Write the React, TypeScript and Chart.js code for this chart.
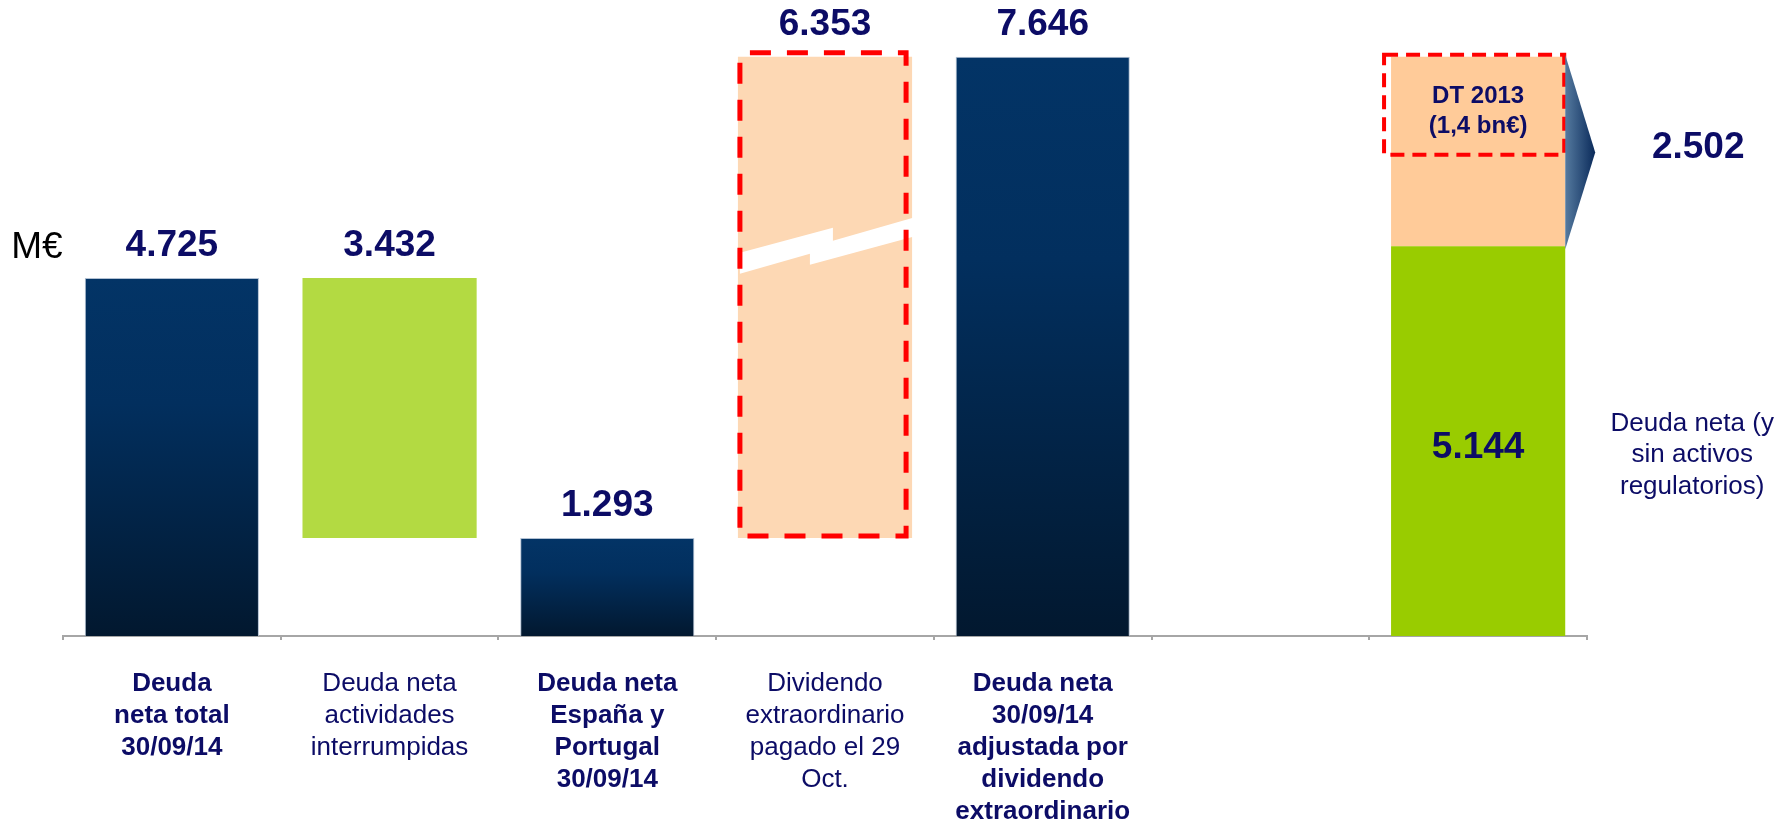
import React, { useEffect, useRef } from 'react';
import { Chart, registerables } from 'chart.js';

Chart.register(...registerables);

// ---- data ----
const categories: (string | string[])[] = [
  ['Deuda', 'neta total', '30/09/14'],
  ['Deuda neta', 'actividades', 'interrumpidas'],
  ['Deuda neta', 'España y', 'Portugal', '30/09/14'],
  ['Dividendo', 'extraordinario', 'pagado el 29', 'Oct.'],
  ['Deuda neta', '30/09/14', 'adjustada por', 'dividendo', 'extraordinario'],
  '',
  '',
];
const boldCategory = [true, false, true, false, true, false, false];
const barStart: (number | null)[] = [0, 1293, 0, 1293, 0, null, 0];
const barEnd: (number | null)[] = [4725, 4725, 1293, 7646, 7646, null, 5144];
const barValue: (number | null)[] = [4725, 3432, 1293, 6353, 7646, null, 5144];
const barKind = ['navy', 'lime', 'navy', 'dividend', 'navy', 'none', 'green'];
const dtStart: (number | null)[] = [null, null, null, null, null, null, 5144];
const dtEnd: (number | null)[] = [null, null, null, null, null, null, 7646];
const dtValue = 2502;
const dtNote = ['DT 2013', '(1,4 bn€)'];
const sideNote = ['Deuda neta (y', 'sin activos', 'regulatorios)'];
const unitLabel = 'M€';
const yMax = 8000;

const FONT = '"Liberation Sans", Arial, Helvetica, sans-serif';
const NAVY_TEXT = '#0c0c66';

const fmt = (n: number) => String(n).replace(/\B(?=(\d{3})+(?!\d))/g, '.');

function barBox(el: any) {
  const p = el.getProps(['x', 'y', 'base', 'width'], true);
  return {
    L: p.x - p.width / 2,
    R: p.x + p.width / 2,
    top: Math.min(p.y, p.base),
    bottom: Math.max(p.y, p.base),
    cx: p.x,
  };
}

const decorPlugin = {
  id: 'decor',
  afterDatasetsDraw(chart: any) {
    const c: CanvasRenderingContext2D = chart.ctx;
    const main = chart.getDatasetMeta(0).data;
    const dt = chart.getDatasetMeta(1).data;
    c.save();

    // ---- dividend bar: break band + dashed frame ----
    const d = barBox(main[3]);
    c.fillStyle = '#ffffff';
    c.beginPath();
    c.moveTo(d.L + 2, d.top + 196);
    c.lineTo(d.L + 95, d.top + 171);
    c.lineTo(d.L + 95, d.top + 184);
    c.lineTo(d.R + 1, d.top + 161);
    c.lineTo(d.R + 1, d.top + 180);
    c.lineTo(d.L + 72, d.top + 208);
    c.lineTo(d.L + 72, d.top + 197);
    c.lineTo(d.L + 2, d.top + 217);
    c.closePath();
    c.fill();

    c.strokeStyle = '#ff0000';
    c.lineWidth = 5;
    c.setLineDash([21, 16]);
    c.lineDashOffset = -10;
    c.strokeRect(d.L + 2, d.top - 4, d.R - 6 - (d.L + 2), d.bottom - 2 - (d.top - 4));

    // ---- last column: DT frame and arrow ----
    const e = barBox(dt[6]);
    const g = barBox(main[6]);
    c.lineWidth = 4;
    c.setLineDash([14, 8]);
    c.lineDashOffset = 0;
    c.strokeRect(e.L - 7, e.top - 2, e.R - 1 - (e.L - 7), 100);
    c.setLineDash([]);

    const midOrange = (e.top + g.top) / 2;
    const grad = c.createLinearGradient(e.R, 0, e.R + 30, 0);
    grad.addColorStop(0, '#557a9f');
    grad.addColorStop(1, '#0a2a5a');
    c.fillStyle = grad;
    c.beginPath();
    c.moveTo(e.R, e.top - 2);
    c.lineTo(e.R + 30, midOrange + 1);
    c.lineTo(e.R, g.top + 3);
    c.closePath();
    c.fill();

    // ---- texts ----
    c.textAlign = 'center';
    c.textBaseline = 'middle';
    c.fillStyle = NAVY_TEXT;
    c.font = `bold 37px ${FONT}`;
    for (let i = 0; i < 5; i++) {
      const v = barValue[i];
      if (v == null) continue;
      const b = barBox(main[i]);
      c.fillText(fmt(v), b.cx, b.top - 32);
    }
    const v6 = barValue[6];
    if (v6 != null) c.fillText(fmt(v6), g.cx, (g.top + g.bottom) / 2 + 7);
    c.fillText(fmt(dtValue), e.R + 133, midOrange - 4);

    c.font = `bold 24px ${FONT}`;
    c.fillText(dtNote[0], e.cx, e.top + 40);
    c.fillText(dtNote[1], e.cx, e.top + 70);

    c.font = `26px ${FONT}`;
    sideNote.forEach((t, k) => c.fillText(t, e.R + 127, g.top + 177 + k * 31.5));

    c.fillStyle = '#000000';
    c.font = `37px ${FONT}`;
    const b0 = barBox(main[0]);
    c.fillText(unitLabel, chart.chartArea.left - 26, b0.top - 30);

    c.restore();
  },
};

export default function App() {
  const ref = useRef<HTMLCanvasElement | null>(null);

  useEffect(() => {
    if (!ref.current) return;
    const chart = new Chart(ref.current, {
      type: 'bar',
      data: {
        labels: categories as any,
        datasets: [
          {
            data: categories.map((_, i) =>
              barStart[i] == null || barEnd[i] == null ? null : [barStart[i], barEnd[i]]
            ) as any,
            grouped: false,
            barPercentage: 0.8,
            categoryPercentage: 1,
            backgroundColor: (ctx: any) => {
              const i = ctx.dataIndex;
              const kind = barKind[i];
              if (kind === 'lime') return '#b3da42';
              if (kind === 'dividend') return '#fdd8b4';
              if (kind === 'green') return '#99cc00';
              if (kind === 'navy') {
                const chart = ctx.chart;
                const ys = chart.scales && chart.scales.y;
                if (!ys || barStart[i] == null || barEnd[i] == null) return '#02305f';
                const top = ys.getPixelForValue(barEnd[i]);
                const bottom = ys.getPixelForValue(barStart[i]);
                if (!isFinite(top) || !isFinite(bottom) || top === bottom) return '#02305f';
                const gr = chart.ctx.createLinearGradient(0, top, 0, bottom);
                gr.addColorStop(0, '#033466');
                gr.addColorStop(0.35, '#022f5e');
                gr.addColorStop(1, '#02182f');
                return gr;
              }
              return 'rgba(0,0,0,0)';
            },
            borderColor: (ctx: any) =>
              barKind[ctx.dataIndex] === 'navy' ? 'rgba(170,186,206,0.9)' : 'rgba(0,0,0,0)',
            borderWidth: (ctx: any) => (barKind[ctx.dataIndex] === 'navy' ? 1 : 0),
          } as any,
          {
            data: categories.map((_, i) =>
              dtStart[i] == null || dtEnd[i] == null ? null : [dtStart[i], dtEnd[i]]
            ) as any,
            grouped: false,
            barPercentage: 0.8,
            categoryPercentage: 1,
            backgroundColor: '#ffcb99',
            borderWidth: 0,
          } as any,
        ],
      },
      options: {
        responsive: false,
        animation: false,
        layout: { padding: { left: 63, right: 203, top: 30, bottom: 0 } },
        plugins: {
          legend: { display: false },
          tooltip: { enabled: false },
        },
        scales: {
          x: {
            offset: true,
            grid: {
              display: true,
              offset: true,
              drawOnChartArea: false,
              drawTicks: true,
              tickLength: 4,
              color: '#a6a6a6',
              lineWidth: 2,
            },
            border: { display: true, color: '#a6a6a6', width: 2 },
            ticks: {
              padding: 28,
              maxRotation: 0,
              minRotation: 0,
              autoSkip: false,
              color: NAVY_TEXT,
              font: (ctx: any) => ({
                family: FONT,
                size: 26,
                weight: boldCategory[ctx.index] ? 'bold' : 'normal',
                lineHeight: '32px',
              }),
            },
            afterFit: (scale: any) => {
              scale.height = 185;
            },
          } as any,
          y: {
            display: false,
            min: 0,
            max: yMax,
          },
        },
      },
      plugins: [decorPlugin],
    } as any);
    return () => chart.destroy();
  }, []);

  return (
    <div style={{ position: 'absolute', left: 0, top: 0, width: 1790, height: 821, background: '#ffffff' }}>
      <canvas ref={ref} width={1790} height={821} style={{ display: 'block' }} />
    </div>
  );
}
